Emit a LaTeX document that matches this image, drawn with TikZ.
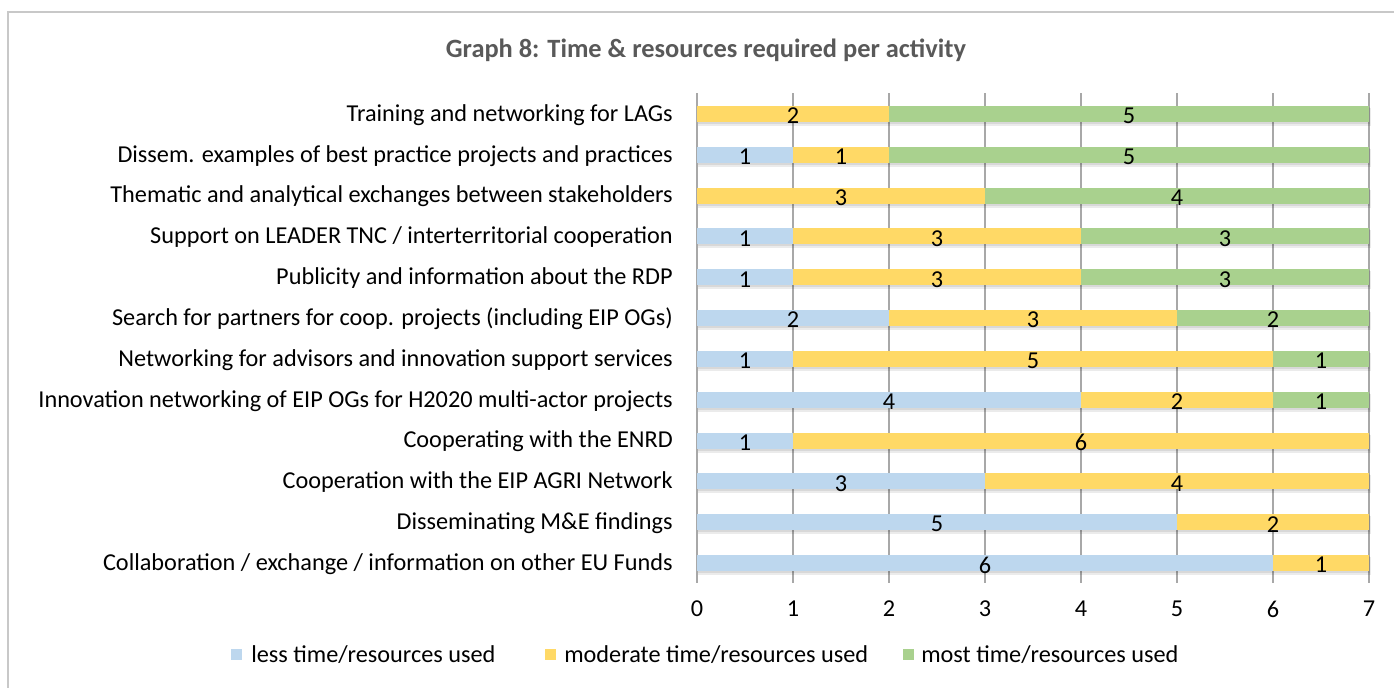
\documentclass[tikz,border=0pt]{standalone}
\usepackage{fontspec}
\setmainfont{Carlito}
\definecolor{cblue}{HTML}{BDD7EE}
\definecolor{cyel}{HTML}{FFD966}
\definecolor{cgrn}{HTML}{A9D18E}
\definecolor{ctitle}{HTML}{595959}
\definecolor{cgrid}{HTML}{A8A8A8}
\definecolor{cframe}{HTML}{C8C8C8}
\tikzset{
  lbl/.style={anchor=east,inner sep=0pt,font=\fontsize{18.2}{20}\selectfont},
  num/.style={inner sep=0pt,font=\fontsize{18.2}{20}\selectfont},
  tick/.style={inner sep=0pt,font=\fontsize{18.2}{20}\selectfont},
  legtxt/.style={anchor=west,inner sep=0pt,font=\fontsize{18.2}{20}\selectfont},
  ttl/.style={inner sep=0pt,font=\fontsize{19.8}{22}\selectfont\bfseries,text=ctitle},
  gridln/.style={draw=cgrid,line width=1.1pt},
  shade/.style={fill=black,opacity=0.08},
}
\begin{document}
\begin{tikzpicture}[x=0.75pt,y=-0.75pt]
\useasboundingbox (0,0) rectangle (1394,687);
\fill[white] (0,0) rectangle (1394,687);
\draw[cframe,line width=1.2pt] (8,700) -- (8,12) -- (1400,12);
\node[ttl] (title) at (706,50) {Graph 8: Time \& resources required per activity};
% grid
\foreach \k in {0,...,7}{
  \draw[gridln] (697+96*\k,93) -- (697+96*\k,583);
  \node[tick] (t\k) at (697+96*\k,609) {\k};
}
% bars
\foreach \lab/\a/\b/\c [count=\i] in {
 {Training and networking for LAGs}/0/2/5,
 {Dissem. examples of best practice projects and practices}/1/1/5,
 {Thematic and analytical exchanges between stakeholders}/0/3/4,
 {Support on LEADER TNC / interterritorial cooperation}/1/3/3,
 {Publicity and information about the RDP}/1/3/3,
 {Search for partners for coop. projects (including EIP OGs)}/2/3/2,
 {Networking for advisors and innovation support services}/1/5/1,
 {Innovation networking of EIP OGs for H2020 multi-actor projects}/4/2/1,
 {Cooperating with the ENRD}/1/6/0,
 {Cooperation with the EIP AGRI Network}/3/4/0,
 {Disseminating M\&E findings}/5/2/0,
 {Collaboration / exchange / information on other EU Funds}/6/1/0}{
  \pgfmathsetmacro\yy{114+(\i-1)*40.82}
  \pgfmathsetmacro\xa{697}
  \pgfmathsetmacro\xb{697+96*\a}
  \pgfmathsetmacro\xc{\xb+96*\b}
  \pgfmathsetmacro\xd{\xc+96*\c}
  \fill[shade] (\xa+1,\yy-6) rectangle (\xd+2,\yy+12);
  \fill[shade] (\xa+1,\yy-7) rectangle (\xd+1,\yy+10);
  \node[lbl] (l\i) at (673,\yy+1) {\lab};
  \ifnum\a>0
    \fill[cblue] (\xa,\yy-8) rectangle (\xb,\yy+8);
    \node[num] (a\i) at ({(\xa+\xb)/2},\yy+2) {\a};
  \fi
  \ifnum\b>0
    \fill[cyel] (\xb,\yy-8) rectangle (\xc,\yy+8);
    \node[num] (b\i) at ({(\xb+\xc)/2},\yy+2) {\b};
  \fi
  \ifnum\c>0
    \fill[cgrn] (\xc,\yy-8) rectangle (\xd,\yy+8);
    \node[num] (c\i) at ({(\xc+\xd)/2},\yy+2) {\c};
  \fi
}
% legend
\fill[cblue] (231,649) rectangle (242,660);
\node[legtxt] (lg1) at (251,655) {less time/resources used};
\fill[cyel] (545,649) rectangle (556,660);
\node[legtxt] (lg2) at (564,655) {moderate time/resources used};
\fill[cgrn] (903,649) rectangle (914,660);
\node[legtxt] (lg3) at (921,655) {most time/resources used};
\end{tikzpicture}
\end{document}
